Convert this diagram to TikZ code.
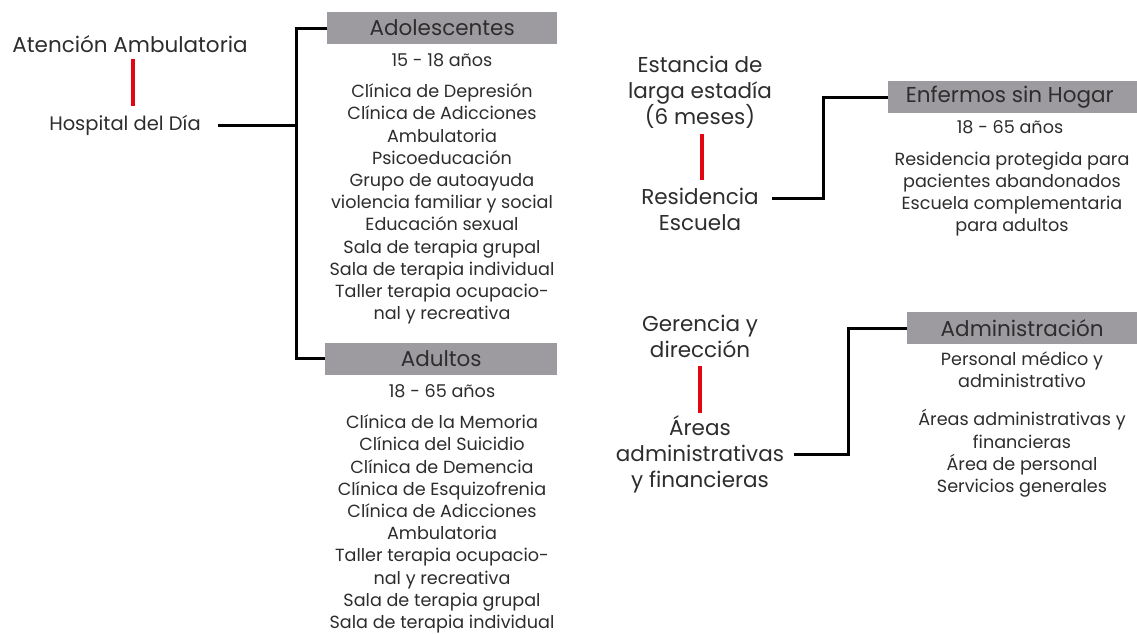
\documentclass[tikz,border=0pt]{standalone}
\usepackage{fontspec}
\setmainfont{Poppins}
\definecolor{txtc}{RGB}{45,45,45}
\definecolor{boxc}{RGB}{157,155,160}
\definecolor{redc}{RGB}{226,6,19}
\begin{document}
\begin{tikzpicture}[x=1pt,y=-1pt,
  item/.style={font=\fontsize{17.6}{22.2}\selectfont, text=txtc, align=center, inner sep=0pt},
  big/.style={font=\fontsize{21.5}{26}\selectfont, text=txtc, align=center, inner sep=0pt},
  hdr/.style={fill=boxc, font=\fontsize{21.5}{22}\selectfont, text=txtc, inner sep=0pt, minimum height=32pt, anchor=west},
  conn/.style={line width=3pt, black},
  redl/.style={line width=4pt, redc}]
\useasboundingbox (0,0) rectangle (1137,633);
\fill[white] (0,0) rectangle (1137,633);

% left column
\node[big] (aten) at (130,44) {Atención Ambulatoria};
\node[big, font=\fontsize{19.5}{26}\selectfont] (hosp) at (125,125) {Hospital del Día};
\draw[redl] (133,59) coordinate (r1a) -- (133,106) coordinate (r1b);

\node[hdr, minimum width=230pt] (adol) at (327,28) {Adolescentes};
\node[item] (adolage) at (442,60) {15 - 18 años};
\node[item] (adolitems) at (442,204) {Clínica de Depresión\\Clínica de Adicciones\\Ambulatoria\\Psicoeducación\\Grupo de autoayuda\\violencia familiar y social\\Educación sexual\\Sala de terapia grupal\\Sala de terapia individual\\Taller terapia ocupacio-\\nal y recreativa};

\node[hdr, minimum width=232pt] (adul) at (325,358.5) {Adultos};
\node[item] (adulage) at (442,391) {18 - 65 años};
\node[item] (adulitems) at (442,524) {Clínica de la Memoria\\Clínica del Suicidio\\Clínica de Demencia\\Clínica de Esquizofrenia\\Clínica de Adicciones\\Ambulatoria\\Taller terapia ocupacio-\\nal y recreativa\\Sala de terapia grupal\\Sala de terapia individual};

\coordinate (hstart) at (218,125);
\coordinate (trunk) at (296,125);
\draw[conn] (hstart) -- (trunk);
\draw[conn] (adol.west) -| (trunk) |- (adul.west);

% right top
\node[big] (estan) at (700,92) {Estancia de\\larga estadía\\(6 meses)};
\node[big] (resid) at (700,209) {Residencia\\Escuela};
\draw[redl] (702,134) -- (702,180);

\node[hdr, minimum width=249pt] (enf) at (888,97) {Enfermos sin Hogar\hspace*{6pt}};
\node[item] (enfage) at (1010,127) {18 - 65 años};
\node[item] (enfitems) at (1012,194) {Residencia protegida para\\pacientes abandonados\\Escuela complementaria\\para adultos};
\coordinate (rstart) at (772,198);
\draw[conn] (rstart) -- (823,198) |- (enf.west);

% right bottom
\node[big] (geren) at (700,336) {Gerencia y\\dirección};
\node[big] (areas) at (700,454) {Áreas\\administrativas\\y financieras};
\draw[redl] (700,366) -- (700,413);

\node[hdr, minimum width=230pt] (admin) at (907,328) {Administración};
\node[item] (adminp) at (1022,370) {Personal médico y\\administrativo};
\node[item] (admini) at (1022,453.5) {Áreas administrativas y\\financieras\\Área de personal\\Servicios generales};
\coordinate (astart) at (794,454);
\draw[conn] (astart) -- (848,454) |- (admin.west);
\end{tikzpicture}
\end{document}
